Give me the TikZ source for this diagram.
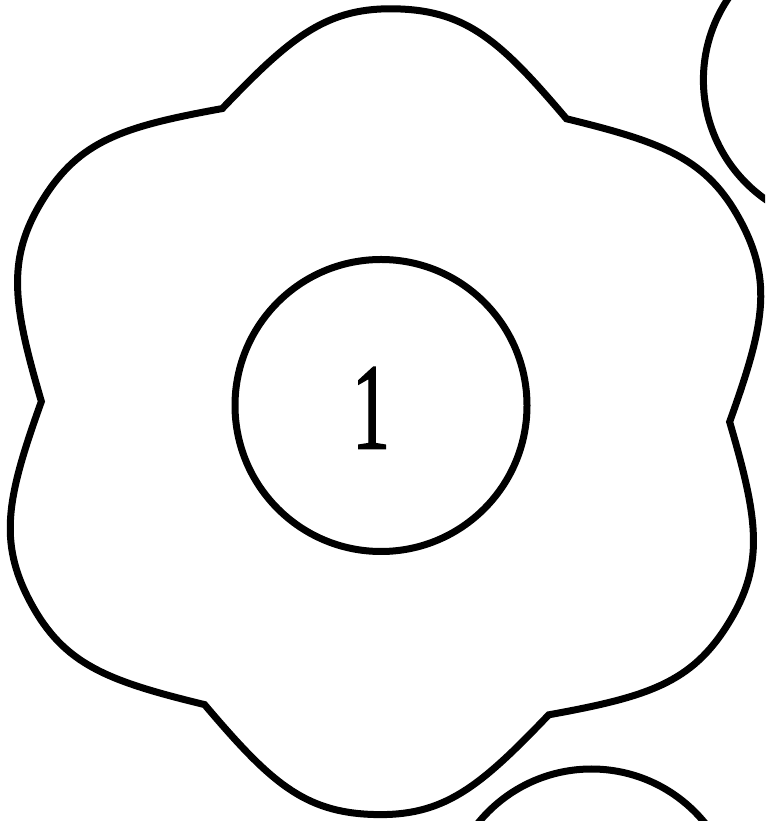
\documentclass[tikz,border=0pt]{standalone}
\usepackage{fontspec}
\usepackage{graphicx}
\setmainfont{Liberation Serif}
\newfontfamily\onefont[FakeBold=1.5]{Liberation Serif}
\usetikzlibrary{calc}
\begin{document}
\begin{tikzpicture}[x=1pt,y=1pt,
  stroke/.style={draw=black,line width=7pt,line join=miter},
  statenode/.style={stroke,circle,minimum size=292pt,inner sep=0pt,
    font=\onefont\fontsize{123}{123}\selectfont}]
\useasboundingbox (0,0) rectangle (765,821);
\clip (0,0) rectangle (765,821);
\coordinate (F) at (385.5,409.3);
\foreach \k in {0,...,5}{
  \coordinate (P\k) at ($(F)+({-1.7+60*\k}:344.3)$);
  \coordinate (A\k) at ($(F)+({28.3+60*\k}:403)$);
}
\draw[stroke]
  (P0) .. controls +(70.3:101) and +(-61.7:70) .. (A0)
       .. controls +(118.3:70) and +(-13.7:101) .. (P1)
       .. controls +(130.3:101) and +(-1.7:70) .. (A1)
       .. controls +(178.3:70) and +(46.3:101) .. (P2)
       .. controls +(190.3:101) and +(58.3:70) .. (A2)
       .. controls +(238.3:70) and +(106.3:101) .. (P3)
       .. controls +(250.3:101) and +(118.3:70) .. (A3)
       .. controls +(298.3:70) and +(166.3:101) .. (P4)
       .. controls +(310.3:101) and +(178.3:70) .. (A4)
       .. controls +(358.3:70) and +(226.3:101) .. (P5)
       .. controls +(10.3:101) and +(238.3:70) .. (A5)
       .. controls +(58.3:70) and +(286.3:101) .. (P0) -- cycle;
\node[statenode] (c1) at (381,415.5)
  {\makebox[0pt]{\raisebox{-1.5pt}[83.1pt][0pt]{\scalebox{0.62}[1]{1}}}\kern20pt};
\node[statenode] (c2) at (849.4,741.1) {};
\node[statenode] (c3) at (591.5,-94) {};
\end{tikzpicture}
\end{document}
